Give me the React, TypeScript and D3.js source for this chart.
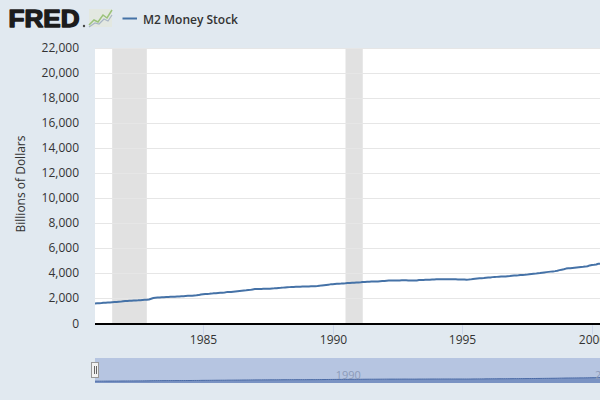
import React, { useEffect, useRef } from "react";
import * as d3 from "d3";

// ---- data ----
const seriesName = "M2 Money Stock";
const yAxisTitle = "Billions of Dollars";
const firstMonth = "1980-11"; // first observation month (monthly series)
const m2Monthly: number[] = [
  // 1980 Nov-Dec
  1588, 1600,
  // 1981
  1605, 1615, 1633, 1652, 1660, 1669, 1680, 1694, 1704, 1716, 1732, 1756,
  // 1982
  1773, 1781, 1795, 1805, 1815, 1825, 1834, 1849, 1864, 1877, 1891, 1906,
  // 1983
  1964, 2017, 2039, 2052, 2068, 2078, 2088, 2097, 2108, 2116, 2120, 2123,
  // 1984
  2136, 2148, 2159, 2170, 2182, 2193, 2200, 2209, 2220, 2234, 2254, 2306,
  // 1985
  2326, 2342, 2349, 2356, 2372, 2394, 2407, 2425, 2440, 2450, 2459, 2492,
  // 1986
  2503, 2510, 2526, 2547, 2567, 2584, 2602, 2620, 2635, 2654, 2671, 2709,
  // 1987
  2732, 2735, 2741, 2750, 2755, 2756, 2762, 2770, 2780, 2791, 2795, 2826,
  // 1988
  2836, 2851, 2866, 2880, 2891, 2902, 2909, 2917, 2919, 2926, 2932, 2940,
  // 1989
  2945, 2950, 2955, 2960, 2965, 2980, 3005, 3030, 3050, 3070, 3090, 3111,
  // 1990
  3125, 3140, 3155, 3165, 3172, 3185, 3197, 3215, 3230, 3237, 3242, 3255,
  // 1991
  3265, 3280, 3300, 3310, 3320, 3330, 3333, 3338, 3342, 3350, 3360, 3371,
  // 1992
  3385, 3405, 3412, 3412, 3415, 3412, 3417, 3425, 3435, 3445, 3441, 3430,
  // 1993
  3425, 3420, 3420, 3428, 3452, 3460, 3468, 3474, 3482, 3490, 3500, 3510,
  // 1994
  3515, 3515, 3519, 3521, 3519, 3513, 3522, 3518, 3517, 3512, 3505, 3500,
  // 1995
  3497, 3493, 3489, 3494, 3510, 3540, 3563, 3585, 3599, 3605, 3616, 3640,
  // 1996
  3653, 3667, 3690, 3702, 3710, 3722, 3733, 3740, 3748, 3760, 3776, 3798,
  // 1997
  3811, 3825, 3835, 3853, 3862, 3873, 3890, 3913, 3931, 3952, 3970, 3993,
  // 1998
  4011, 4040, 4068, 4090, 4110, 4130, 4148, 4170, 4205, 4250, 4285, 4320,
  // 1999
  4370, 4395, 4405, 4425, 4445, 4465, 4480, 4497, 4510, 4530, 4560, 4625,
  // 2000
  4660, 4680, 4705, 4760, 4760, 4775,
];
const recessions: [string, string][] = [
  ["1981-07-01", "1982-11-01"],
  ["1990-07-01", "1991-03-01"],
];
const yTicks = [0, 2000, 4000, 6000, 8000, 10000, 12000, 14000, 16000, 18000, 20000, 22000];
const xTickYears = [1985, 1990, 1995, 2000];
const navTickYears = [1990, 2000];
const viewStart = "1980-11-01";
const viewEnd = "2000-04-24";

const FONT = "'Open Sans', 'Noto Sans', sans-serif";

export default function App() {
  const ref = useRef<SVGSVGElement | null>(null);

  useEffect(() => {
    const svg = d3.select(ref.current);
    svg.selectAll("*").remove();

    const W = 600, H = 400;
    const left = 95, right = 600, top = 48, bottom = 323.3;
    const navTop = 358, navBottom = 383;

    const [fy, fm] = firstMonth.split("-").map(Number);
    const data = m2Monthly.map((v, i) => ({ date: new Date(fy, fm - 1 + i, 1), value: v }));

    const x = d3.scaleTime().domain([new Date(viewStart), new Date(viewEnd)]).range([left, right]);
    const y = d3.scaleLinear().domain([0, 22000]).range([bottom, top]);
    const yNav = d3.scaleLinear().domain([0, 22000]).range([navBottom, navTop]);

    svg.append("rect").attr("width", W).attr("height", H).attr("fill", "#e1e9f0");

    const defs = svg.append("defs");
    defs.append("clipPath").attr("id", "plotClip")
      .append("rect").attr("x", left).attr("y", top).attr("width", right - left).attr("height", bottom - top + 2);

    // plot background
    svg.append("rect").attr("x", left).attr("y", top).attr("width", right - left).attr("height", bottom - top).attr("fill", "#ffffff");

    // recessions
    const g = svg.append("g").attr("clip-path", "url(#plotClip)");
    g.selectAll("rect.rec").data(recessions).enter().append("rect")
      .attr("x", (d) => x(new Date(d[0])))
      .attr("width", (d) => x(new Date(d[1])) - x(new Date(d[0])))
      .attr("y", top).attr("height", bottom - top)
      .attr("fill", "#e1e1e1");

    // gridlines
    g.selectAll("line.grid").data(yTicks.filter((t) => t > 0)).enter().append("line")
      .attr("x1", left).attr("x2", right)
      .attr("y1", (d) => Math.round(y(d)) + 0.5).attr("y2", (d) => Math.round(y(d)) + 0.5)
      .attr("stroke", "#e6e6e6").attr("stroke-width", 1);

    // line
    const line = d3.line<{ date: Date; value: number }>().x((d) => x(d.date)).y((d) => y(d.value));
    g.append("path").datum(data).attr("d", line).attr("fill", "none")
      .attr("stroke", "#4572a7").attr("stroke-width", 2).attr("stroke-linejoin", "round");

    // zero axis line
    svg.append("line").attr("x1", left).attr("x2", right).attr("y1", bottom + 0.7).attr("y2", bottom + 0.7)
      .attr("stroke", "#000").attr("stroke-width", 2.2);

    // y labels
    svg.selectAll("text.ylab").data(yTicks).enter().append("text")
      .attr("x", 79).attr("y", (d) => y(d)).attr("dy", "0.35em")
      .attr("text-anchor", "end").attr("font-family", FONT).attr("font-size", 12)
      .attr("fill", "#333").text((d) => d3.format(",")(d));

    // y title
    svg.append("text").attr("transform", `translate(25,184) rotate(-90)`)
      .attr("text-anchor", "middle").attr("font-family", FONT).attr("font-size", 12)
      .attr("fill", "#333").text(yAxisTitle);

    // x ticks
    xTickYears.forEach((yr) => {
      const xx = Math.round(x(new Date(yr, 0, 1))) + 0.5;
      svg.append("line").attr("x1", xx).attr("x2", xx).attr("y1", bottom + 2).attr("y2", bottom + 11)
        .attr("stroke", "#ccd6eb").attr("stroke-width", 1);
      svg.append("text").attr("x", xx).attr("y", 344).attr("text-anchor", "middle")
        .attr("font-family", FONT).attr("font-size", 12).attr("fill", "#333").text(String(yr));
    });

    // navigator
    svg.append("rect").attr("x", left).attr("y", navTop).attr("width", right - left).attr("height", navBottom - navTop)
      .attr("fill", "#b6c5e1");
    const navArea = d3.area<{ date: Date; value: number }>().x((d) => x(d.date)).y0(navBottom).y1((d) => yNav(d.value));
    const gn = svg.append("g").attr("clip-path", "url(#navClip)");
    defs.append("clipPath").attr("id", "navClip")
      .append("rect").attr("x", left).attr("y", navTop).attr("width", right - left).attr("height", navBottom - navTop);
    gn.append("path").datum(data).attr("d", navArea).attr("fill", "#6b86bb").attr("fill-opacity", 0.8);
    gn.append("path").datum(data).attr("d", d3.line<{ date: Date; value: number }>().x((d) => x(d.date)).y((d) => yNav(d.value)))
      .attr("fill", "none").attr("stroke", "#4a6aa5").attr("stroke-width", 1);
    navTickYears.forEach((yr) => {
      svg.append("text").attr("x", x(new Date(yr, 0, 1)) + 3).attr("y", 379)
        .attr("font-family", FONT).attr("font-size", 11).attr("fill", "#8c9bb8").text(String(yr));
    });
    // handle
    svg.append("rect").attr("x", 91.5).attr("y", 362.5).attr("width", 7).attr("height", 15)
      .attr("fill", "#f2f2f2").attr("stroke", "#999").attr("stroke-width", 1);
    [94.5, 96.5].forEach((hx) => {
      svg.append("line").attr("x1", hx).attr("x2", hx).attr("y1", 366).attr("y2", 374)
        .attr("stroke", "#666").attr("stroke-width", 1);
    });

    // header: logo
    svg.append("text").attr("x", 8.5).attr("y", 27).attr("font-family", "'Liberation Sans', Arial, sans-serif")
      .attr("font-weight", 700).attr("font-size", 23).attr("fill", "#1c1c1c")
      .attr("stroke", "#1c1c1c").attr("stroke-width", 1.3).attr("stroke-linejoin", "round")
      .attr("textLength", 71).attr("lengthAdjust", "spacingAndGlyphs").text("FRED");
    svg.append("circle").attr("cx", 84).attr("cy", 26).attr("r", 1.2).attr("fill", "#444");
    svg.append("rect").attr("x", 89).attr("y", 9).attr("width", 23).attr("height", 18).attr("fill", "#e3e8e1");
    svg.append("polyline").attr("points", "89,25 94,20 98,22 103,15 107,18 112,10")
      .attr("fill", "none").attr("stroke", "#9bc27a").attr("stroke-width", 1.5);
    svg.append("polyline").attr("points", "89,27 95,23 99,24 104,19 108,21 112,15")
      .attr("fill", "none").attr("stroke", "#a9b6c4").attr("stroke-width", 1.2);

    // legend
    svg.append("line").attr("x1", 122.5).attr("x2", 137).attr("y1", 18.5).attr("y2", 18.5)
      .attr("stroke", "#4572a7").attr("stroke-width", 2);
    svg.append("text").attr("x", 143).attr("y", 23.5).attr("font-family", FONT).attr("font-size", 12)
      .attr("font-weight", 600).attr("fill", "#333").text(seriesName);
  }, []);

  return (
    <svg ref={ref} width={600} height={400} style={{ position: "absolute", left: 0, top: 0, display: "block" }} />
  );
}
